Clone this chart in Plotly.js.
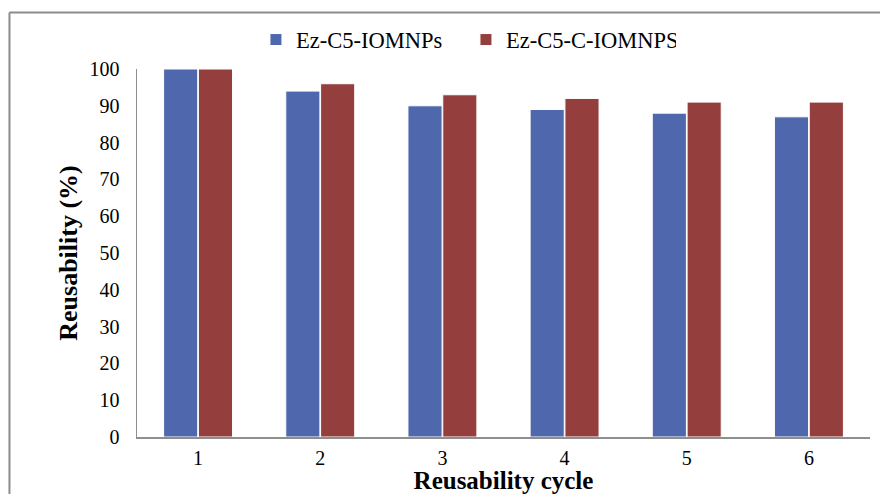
<!DOCTYPE html>
<html>
<head>
<meta charset="utf-8">
<script src="https://cdn.plot.ly/plotly-3.0.1.min.js"></script>
<style>body{margin:0;background:#fff;}#chart{width:880px;height:494px;}</style>
</head>
<body>
<div id="chart"></div>
<script>
var cycles = ["1", "2", "3", "4", "5", "6"];
var seriesNames = ["Ez-C5-IOMNPs", "Ez-C5-C-IOMNPS"];
var ezC5 = [100, 94, 90, 89, 88, 87];
var ezC5C = [100, 96, 93, 92, 91, 91];
var yTicks = [0, 10, 20, 30, 40, 50, 60, 70, 80, 90, 100];

var font = "Liberation Serif, Times New Roman, serif";
var traces = [
  {type: "bar", name: seriesNames[0], x: cycles, y: ezC5,
   marker: {color: "#4F67AC", line: {color: "#ffffff", width: 1}}},
  {type: "bar", name: seriesNames[1], x: cycles, y: ezC5C,
   marker: {color: "#943F3E", line: {color: "#ffffff", width: 1}}}
];
var layout = {
  width: 880, height: 494,
  margin: {l: 137, r: 10, t: 69, b: 57},
  paper_bgcolor: "#ffffff", plot_bgcolor: "#ffffff",
  font: {family: font, color: "#000000", size: 20},
  barmode: "group", bargap: 0.43, bargroupgap: 0.02,
  showlegend: true,
  legend: {orientation: "h", x: 0.1623, xanchor: "left", y: 1.079, yanchor: "middle",
           font: {family: font, size: 22.5}, entrywidth: 165, entrywidthmode: "pixels"},
  xaxis: {type: "category", showgrid: false, zeroline: false, showline: true,
          linecolor: "#8e8e8e", linewidth: 2, ticks: "", ticklabelstandoff: 2,
          tickfont: {family: font, size: 20},
          title: {text: "<b>Reusability cycle</b>", font: {family: font, size: 25}, standoff: 8}},
  yaxis: {range: [0, 100], tickvals: yTicks, showgrid: false, zeroline: false, showline: true,
          linecolor: "#8e8e8e", linewidth: 1.5,
          ticks: "", ticklabelstandoff: 12, tickfont: {family: font, size: 20},
          title: {text: "<b>Reusability (%)</b>", font: {family: font, size: 26}, standoff: 4}},
  shapes: [
    {type: "line", xref: "paper", yref: "paper", x0: -0.174, x1: 1.2, y0: 1.1535, y1: 1.1535,
     line: {color: "#8c8c8c", width: 2}},
    {type: "line", xref: "paper", yref: "paper", x0: -0.174, x1: -0.174, y0: -0.3, y1: 1.1535,
     line: {color: "#8c8c8c", width: 2}}
  ]
};
Plotly.newPlot("chart", traces, layout, {displayModeBar: false, staticPlot: true});
</script>
</body>
</html>
